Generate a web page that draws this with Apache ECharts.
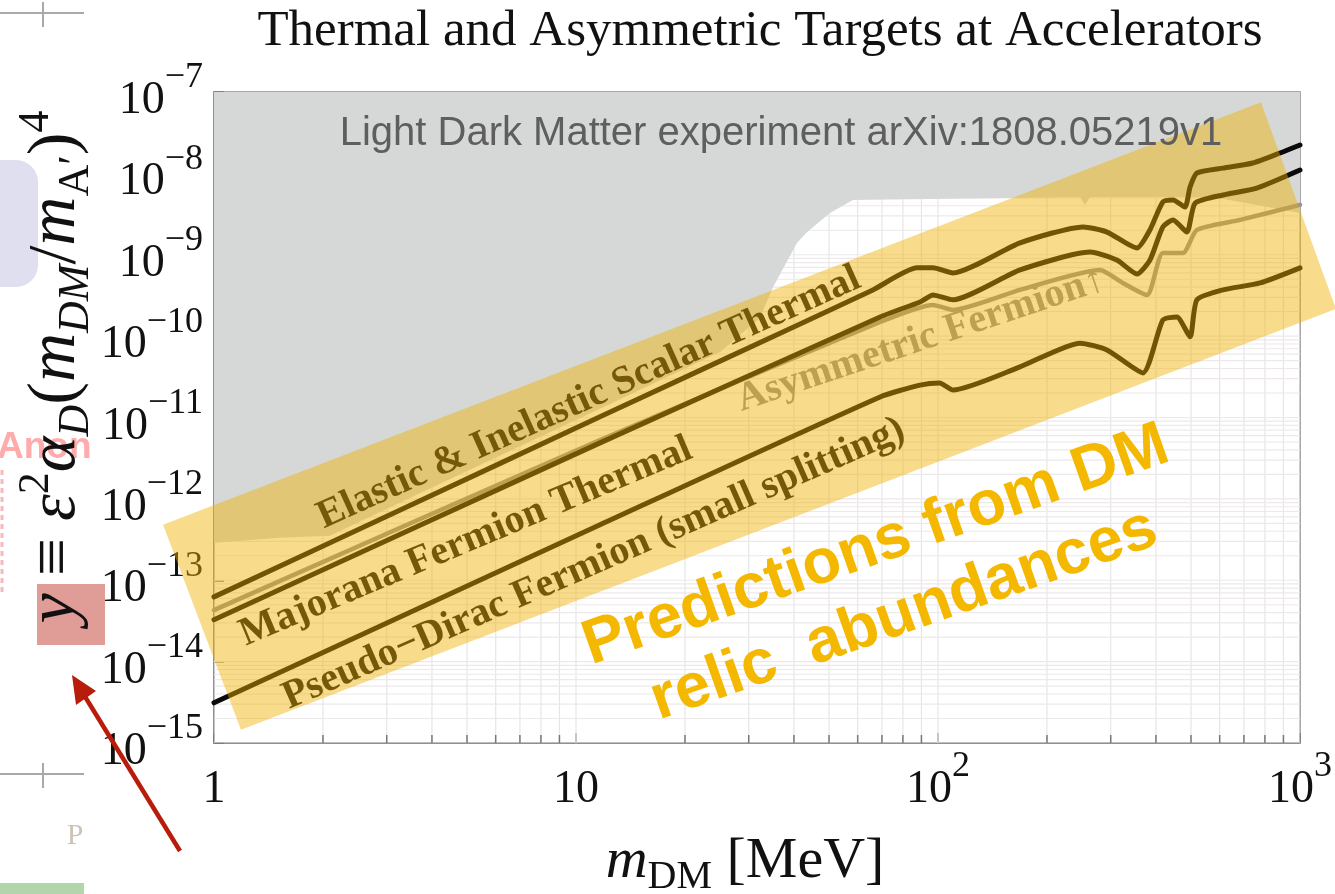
<!DOCTYPE html>
<html>
<head>
<meta charset="utf-8">
<script src="https://cdn.jsdelivr.net/npm/echarts@6.0.0/dist/echarts.min.js"></script>
<style>
  html, body { margin: 0; padding: 0; background: #ffffff; }
  #chart { width: 1335px; height: 894px; }
</style>
</head>
<body>
<div id="chart"></div>
<script>
// ---- axis ranges ----
const X_MIN = 1, X_MAX = 1000;        // m_DM [MeV]
const Y_MIN = 1e-15, Y_MAX = 1e-7;    // y = eps^2 alpha_D (m_DM/m_A')^4

// ---- thermal / asymmetric target curves (m_DM in MeV, y) ----
const massElastic = [1, 3.27, 11.65, 41.6, 66.1, 87.5, 96.9, 110, 168.5, 251.6, 293, 354.5, 385, 418, 446, 481, 497, 519, 613, 741, 881, 1000];
const yElastic    = [6.25e-14, 7.3e-13, 1.02e-11, 1.41e-10, 3.7e-10, 6.9e-10, 6.9e-10, 5.97e-10, 1.4e-9, 2.2e-9, 1.9e-9, 1.21e-9, 2.02e-9, 4.46e-9, 4.71e-9, 3.86e-9, 6.8e-9, 1.01e-8, 1.16e-8, 1.34e-8, 1.78e-8, 2.23e-8];

const massMajorana = [1, 11.65, 69.2, 89.2, 96.9, 110, 168.5, 263, 312, 354.5, 385, 418, 446, 487, 513, 613, 760, 1000];
const yMajorana    = [3.27e-14, 4.88e-12, 1.72e-10, 2.63e-10, 3.2e-10, 2.79e-10, 6.5e-10, 1.08e-9, 8.6e-10, 5.8e-10, 8.6e-10, 2.2e-9, 2.68e-9, 1.9e-9, 4.3e-9, 5.43e-9, 6.6e-9, 1.1e-8];

const massAsym = [1, 11.65, 69.2, 96.9, 110, 168.5, 280, 324, 378, 418, 475, 519, 683, 1000];
const yAsym    = [4.3e-14, 5.3e-12, 1.49e-10, 2.42e-10, 2.1e-10, 3.7e-10, 6.5e-10, 4.5e-10, 3.2e-10, 1.05e-9, 1.05e-9, 2.02e-9, 2.68e-9, 4.1e-9];

const massPseudo = [1, 11.65, 69.2, 89.2, 101, 110, 168.5, 247, 293, 368, 418, 457, 497, 519, 613, 776, 1000];
const yPseudo    = [3.12e-15, 4.8e-13, 1.79e-11, 2.5e-11, 2.66e-11, 2.18e-11, 4.19e-11, 8.2e-11, 6.76e-11, 3.53e-11, 1.58e-10, 1.72e-10, 9.8e-11, 2.79e-10, 3.7e-10, 4.5e-10, 6.9e-10];

// ---- lower edge of the excluded (grey) region ----
const massExcluded = [1, 1.52, 2.09, 4.49, 11.65, 25.0, 32.2, 35.0, 40.8, 43.5, 50.3, 58.2, 246.8, 254.8, 263, 575, 1000];
const yExcluded    = [2.88e-13, 3.32e-13, 3.52e-13, 1.76e-12, 1.28e-11, 6.4e-11, 1.67e-10, 4.0e-10, 1.4e-9, 1.9e-9, 3.27e-9, 4.7e-9, 5.13e-9, 4.1e-9, 5.13e-9, 5.13e-9, 3.27e-9];

// ---- highlighted band (corners in m_DM, y) ----
const bandCorners = [[0.723, 4.8e-13], [1.187, 1.45e-15], [1257, 2.16e-10], [780, 7.5e-8]];

// ---- curve captions, anchored in data space ----
const curveLabels = [
  { text: 'Elastic & Inelastic Scalar Thermal', at: [10.86, 1.74e-11], angle: 24.2, color: '#111111' },
  { text: 'Majorana Fermion Thermal',           at: [4.97, 2.96e-13],  angle: 22.8, color: '#111111' },
  { text: 'Pseudo\u2212Dirac Fermion (small splitting)', at: [11.2, 1.59e-13], angle: 23.7, color: '#111111' },
  { text: 'Asymmetric Fermion\u2191',          at: [89.8, 8.97e-11], angle: 18.5, color: '#949494' }
];

// grid-line positions (1..9 per decade)
const gridMass = [];
for (const d of [1, 10, 100]) for (let k = 1; k <= 9; k++) gridMass.push(k * d);
gridMass.push(1000);
const gridY = [];
for (let e = -15; e < -7; e++) for (let k = 1; k <= 9; k++) gridY.push(k * Math.pow(10, e));
gridY.push(1e-7);
const minorMass = gridMass.filter(v => ![1, 10, 100, 1000].includes(v));

const zip = (xs, ys) => xs.map((x, i) => [x, ys[i]]);

const SERIF = '"Liberation Serif", "Times New Roman", serif';
const SANS = '"Liberation Sans", Arial, sans-serif';

const tickRich = {
  b: { fontFamily: SERIF, fontSize: 46, lineHeight: 64, verticalAlign: 'bottom', color: '#111' },
  s: { fontFamily: SERIF, fontSize: 36, lineHeight: 36, verticalAlign: 'top', color: '#111' }
};

const chart = echarts.init(document.getElementById('chart'), null, { renderer: 'canvas' });

const curveStyle = (color, width) => ({
  type: 'line', showSymbol: false, symbol: 'none', smooth: 0.2, silent: true, z: 4,
  lineStyle: { color: color, width: width, cap: 'round', join: 'round' }
});

chart.setOption({
  animation: false,
  backgroundColor: '#ffffff',
  grid: {
    left: 214, right: 35, top: 92, bottom: 151,
    show: true, backgroundColor: '#ffffff', borderColor: '#8a8a8a', borderWidth: 1.5
  },
  xAxis: {
    type: 'log', logBase: 10, min: X_MIN, max: X_MAX, interval: 1,
    axisLine: { show: true, lineStyle: { color: '#8a8a8a', width: 1.5 } },
    axisTick: { show: true, inside: true, length: 10, lineStyle: { color: '#777', width: 1.5 } },
    splitLine: { show: false },
    axisLabel: {
      margin: 6, showMinLabel: true, showMaxLabel: true, rich: tickRich,
      formatter: v => {
        const e = Math.round(Math.log10(v));
        if (e === 0) return '{b|1}';
        if (e === 1) return '{b|10}';
        return '{b|10}{s|' + e + '}';
      }
    }
  },
  yAxis: {
    type: 'log', logBase: 10, min: Y_MIN, max: Y_MAX, interval: 1,
    axisLine: { show: true, lineStyle: { color: '#8a8a8a', width: 1.5 } },
    axisTick: { show: true, inside: true, length: 10, lineStyle: { color: '#777', width: 1.5 } },
    splitLine: { show: false },
    axisLabel: {
      margin: 11, showMinLabel: true, showMaxLabel: true, rich: tickRich,
      formatter: v => '{b|10}{s|\u2212' + (-Math.round(Math.log10(v))) + '}'
    }
  },
  series: [
    { // vertical grid lines
      type: 'custom', z: 1, silent: true, clip: true,
      data: gridMass.map(v => [v, Y_MIN]),
      renderItem: (params, api) => {
        const v = api.value(0);
        const a = api.coord([v, Y_MIN]), b = api.coord([v, Y_MAX]);
        return { type: 'line', shape: { x1: a[0], y1: a[1], x2: b[0], y2: b[1] },
                 style: { stroke: '#e6e6e6', lineWidth: 1.2 } };
      }
    },
    { // horizontal grid lines
      type: 'custom', z: 1, silent: true, clip: true,
      data: gridY.map(v => [X_MIN, v]),
      renderItem: (params, api) => {
        const v = api.value(1);
        const a = api.coord([X_MIN, v]), b = api.coord([X_MAX, v]);
        return { type: 'line', shape: { x1: a[0], y1: a[1], x2: b[0], y2: b[1] },
                 style: { stroke: '#ede8ea', lineWidth: 1.2 } };
      }
    },
    { // excluded region, filled up to the top of the frame
      type: 'line', z: 2, silent: true, showSymbol: false, symbol: 'none', smooth: false,
      data: zip(massExcluded, yExcluded),
      lineStyle: { width: 0, color: '#d6d8d8' },
      areaStyle: { color: '#d6d8d8', opacity: 1, origin: 'end' }
    },
    Object.assign(curveStyle('#949494', 4.5), { name: 'Asymmetric Fermion', data: zip(massAsym, yAsym) }),
    Object.assign(curveStyle('#0a0a0a', 5), { name: 'Elastic & Inelastic Scalar Thermal', data: zip(massElastic, yElastic) }),
    Object.assign(curveStyle('#0a0a0a', 5), { name: 'Majorana Fermion Thermal', data: zip(massMajorana, yMajorana) }),
    Object.assign(curveStyle('#0a0a0a', 5), { name: 'Pseudo-Dirac Fermion', data: zip(massPseudo, yPseudo) }),
    { // minor ticks on the mass axis
      type: 'custom', z: 5, silent: true, clip: false,
      data: minorMass.map(v => [v, Y_MIN]),
      renderItem: (params, api) => {
        const a = api.coord([api.value(0), Y_MIN]);
        return { type: 'line', shape: { x1: a[0], y1: a[1], x2: a[0], y2: a[1] - 8 },
                 style: { stroke: '#777', lineWidth: 1.5 } };
      }
    }
  ]
});

// ---- overlays placed through the axes ----
const P = (m, y) => chart.convertToPixel({ xAxisIndex: 0, yAxisIndex: 0 }, [m, y]);
const g = [];

// curve captions (below the band so they pick up its tint)
curveLabels.forEach(l => {
  const p = P(l.at[0], l.at[1]);
  g.push({
    type: 'text', x: p[0], y: p[1], rotation: l.angle * Math.PI / 180, z: 6, silent: true,
    style: { text: l.text, font: 'bold 40px ' + SERIF, fill: l.color, align: 'center', verticalAlign: 'middle' }
  });
});

// translucent highlight band
g.push({
  type: 'polygon', z: 20, silent: true,
  shape: { points: bandCorners.map(c => P(c[0], c[1])) },
  style: { fill: 'rgba(240,177,0,0.45)' }
});

// title
g.push({
  type: 'text', x: 760, y: 32, z: 30, silent: true,
  style: { text: 'Thermal and Asymmetric Targets at Accelerators', font: '51px ' + SERIF, fill: '#111', align: 'center', verticalAlign: 'middle' }
});

// source note
g.push({
  type: 'text', x: 781, y: 134, z: 30, silent: true,
  style: { text: 'Light Dark Matter experiment arXiv:1808.05219v1', font: '40px ' + SANS, fill: '#5e5e5e', align: 'center', verticalAlign: 'middle' }
});

// callout
g.push({
  type: 'text', x: 876, y: 546, rotation: 19.4 * Math.PI / 180, z: 30, silent: true,
  style: { text: 'Predictions from DM', font: 'bold 63px ' + SANS, fill: '#f4b800', align: 'center', verticalAlign: 'middle' }
});
g.push({
  type: 'text', x: 904, y: 615, rotation: 19.4 * Math.PI / 180, z: 30, silent: true,
  style: { text: 'relic  abundances', font: 'bold 63px ' + SANS, fill: '#f4b800', align: 'center', verticalAlign: 'middle' }
});

// x-axis title
g.push({
  type: 'text', x: 745, y: 862, z: 30, silent: true,
  style: {
    text: '{i|m}{sb|DM}{r| [MeV]}', align: 'center', verticalAlign: 'middle',
    rich: {
      i: { fontFamily: SERIF, fontStyle: 'italic', fontSize: 58, lineHeight: 70, verticalAlign: 'middle', fill: '#111' },
      r: { fontFamily: SERIF, fontSize: 58, lineHeight: 70, verticalAlign: 'middle', fill: '#111' },
      sb: { fontFamily: SERIF, fontSize: 40, lineHeight: 40, verticalAlign: 'bottom', fill: '#111' }
    }
  }
});

// left-margin decorations
g.push({ type: 'rect', z: 25, silent: true, shape: { x: -20, y: 160, width: 58, height: 127, r: 22 }, style: { fill: '#dfdff0' } });
g.push({ type: 'text', x: -3, y: 448, z: 25, silent: true,
  style: { text: 'Anon', font: 'bold 37px ' + SANS, fill: '#ffabab', align: 'left', verticalAlign: 'middle' } });
g.push({ type: 'line', z: 25, silent: true, shape: { x1: 2, y1: 470, x2: 2, y2: 592 }, style: { stroke: '#f7b9b9', lineWidth: 3, lineDash: [5, 4] } });
g.push({ type: 'line', z: 25, silent: true, shape: { x1: 0, y1: 13, x2: 84, y2: 13 }, style: { stroke: '#a9a9a9', lineWidth: 2 } });
g.push({ type: 'line', z: 25, silent: true, shape: { x1: 43, y1: 2, x2: 43, y2: 27 }, style: { stroke: '#a9a9a9', lineWidth: 2 } });
g.push({ type: 'line', z: 25, silent: true, shape: { x1: 0, y1: 774, x2: 84, y2: 774 }, style: { stroke: '#a9a9a9', lineWidth: 2 } });
g.push({ type: 'line', z: 25, silent: true, shape: { x1: 43, y1: 763, x2: 43, y2: 788 }, style: { stroke: '#a9a9a9', lineWidth: 2 } });
g.push({ type: 'text', x: 75, y: 836, z: 25, silent: true,
  style: { text: 'P', font: '30px ' + SERIF, fill: '#cfc3b6', align: 'center', verticalAlign: 'middle' } });
g.push({ type: 'rect', z: 25, silent: true, shape: { x: 0, y: 883, width: 84, height: 11 }, style: { fill: '#b3d5ab' } });

// highlight behind y
g.push({ type: 'rect', z: 26, silent: true, shape: { x: 37, y: 584, width: 68, height: 61 }, style: { fill: '#e09c97' } });

// y-axis title
g.push({
  type: 'text', x: 56, y: 367, rotation: Math.PI / 2, z: 30, silent: true,
  style: {
    text: '{i|y}{r| \u2261 }{i|\u03b5}{sp|2}{i|\u03b1}{sbi|D}{r|(}{i|m}{sbi|DM}{r|/}{i|m}{sb|A\u2032}{r|)}{sp|4}',
    align: 'center', verticalAlign: 'middle',
    rich: {
      i:   { fontFamily: SERIF, fontStyle: 'italic', fontSize: 68, lineHeight: 84, verticalAlign: 'middle', fill: '#111' },
      r:   { fontFamily: SERIF, fontSize: 68, lineHeight: 84, verticalAlign: 'middle', fill: '#111' },
      sp:  { fontFamily: SERIF, fontSize: 44, lineHeight: 44, verticalAlign: 'top', fill: '#111' },
      sbi: { fontFamily: SERIF, fontStyle: 'italic', fontSize: 44, lineHeight: 44, verticalAlign: 'bottom', fill: '#111' },
      sb:  { fontFamily: SERIF, fontSize: 44, lineHeight: 44, verticalAlign: 'bottom', fill: '#111' }
    }
  }
});

// red pointer arrow
g.push({ type: 'line', z: 31, silent: true, shape: { x1: 180, y1: 851, x2: 84, y2: 695 }, style: { stroke: '#b81c0a', lineWidth: 4.5 } });
g.push({ type: 'polygon', z: 31, silent: true, shape: { points: [[72, 675], [76, 705], [96, 691]] }, style: { fill: '#b81c0a' } });

chart.setOption({ graphic: g });
</script>
</body>
</html>
